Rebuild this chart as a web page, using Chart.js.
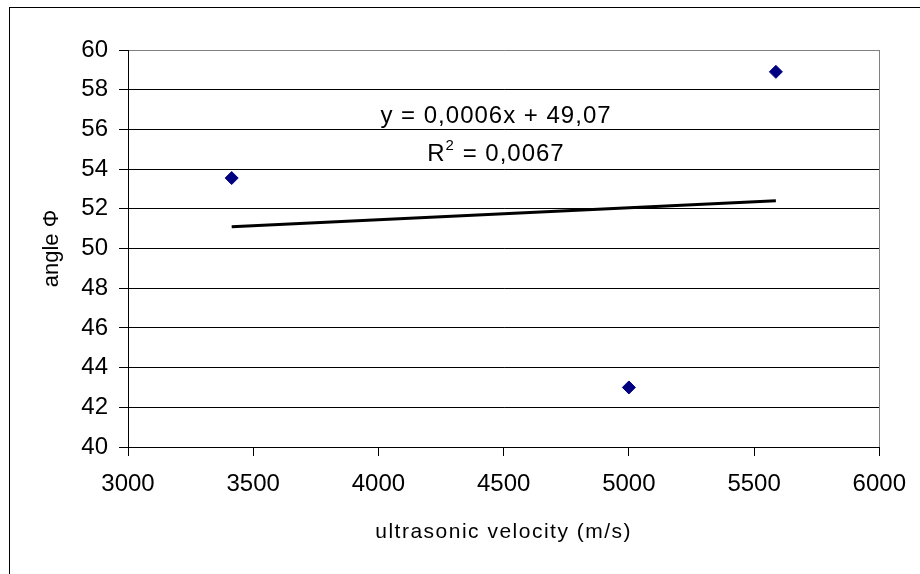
<!DOCTYPE html>
<html>
<head>
<meta charset="utf-8">
<script src="https://cdn.jsdelivr.net/npm/chart.js@4/dist/chart.umd.min.js"></script>
<style>
  html, body { margin: 0; padding: 0; background: #fff; }
  #wrap { width: 920px; height: 574px; }
</style>
</head>
<body>
<div id="wrap"><canvas id="chart" width="920" height="574"></canvas></div>
<script>
// measured points
var velocity = [3414, 5587, 5000];
var angle = [53.55, 58.9, 43.0];

// linear trend line ends (Excel style)
var trendVelocity = [3414, 5587];
var trendAngle = [51.1, 52.4];

var xTicks = [3000, 3500, 4000, 4500, 5000, 5500, 6000];
var yTicks = [40, 42, 44, 46, 48, 50, 52, 54, 56, 58, 60];

var xTitle = 'ultrasonic velocity (m/s)';
var yTitle = 'angle Φ';
var trendText = 'y = 0,0006x + 49,07';
var r2Text = '0,0067';

var FONT = "'Liberation Sans', Arial, sans-serif";

var toPoints = function (xs, ys) {
    var out = [];
    for (var i = 0; i < xs.length; i++) {
        out.push({ x: xs[i], y: ys[i] });
    }
    return out;
};

var frame = {
    id: 'frame',
    beforeDraw: function (chart) {
        var ctx = chart.ctx;
        ctx.save();
        ctx.fillStyle = '#fff';
        ctx.fillRect(0, 0, chart.width, chart.height);
        ctx.strokeStyle = '#000';
        ctx.lineWidth = 1;
        ctx.strokeRect(9.5, 7.5, chart.width + 20, chart.height + 20);
        ctx.restore();
    },
    afterDraw: function (chart) {
        var ctx = chart.ctx;
        var a = chart.chartArea;
        ctx.save();
        // plot area right edge
        ctx.strokeStyle = '#808080';
        ctx.lineWidth = 1;
        ctx.beginPath();
        ctx.moveTo(Math.round(a.right) + 0.5, a.top);
        ctx.lineTo(Math.round(a.right) + 0.5, a.bottom);
        ctx.stroke();

        ctx.fillStyle = '#000';
        ctx.textBaseline = 'alphabetic';

        // x axis title (wide spacing like the original)
        ctx.letterSpacing = '1.5px';
        ctx.font = '21px ' + FONT;
        ctx.textAlign = 'center';
        ctx.fillText(xTitle, (a.left + a.right) / 2, 538);

        // trend line label
        var cx = 496;
        ctx.letterSpacing = '1px';
        ctx.font = '24px ' + FONT;
        ctx.textAlign = 'center';
        ctx.fillText(trendText, cx, 123);

        ctx.textAlign = 'left';
        var w1 = ctx.measureText('R').width;
        ctx.font = '15px ' + FONT;
        var w2 = ctx.measureText('2').width;
        ctx.font = '24px ' + FONT;
        var w3 = ctx.measureText(' = ' + r2Text).width;
        var x0 = cx - (w1 + w2 + w3) / 2;
        ctx.fillText('R', x0, 161);
        ctx.font = '15px ' + FONT;
        ctx.fillText('2', x0 + w1, 150);
        ctx.font = '24px ' + FONT;
        ctx.fillText(' = ' + r2Text, x0 + w1 + w2, 161);
        ctx.restore();
    }
};

var chart = new Chart(document.getElementById('chart'), {
    type: 'scatter',
    data: {
        datasets: [
            {
                label: 'trend',
                data: toPoints(trendVelocity, trendAngle),
                showLine: true,
                borderColor: '#000',
                borderWidth: 3,
                pointRadius: 0,
                fill: false,
                order: 2
            },
            {
                label: 'angle',
                data: toPoints(velocity, angle),
                pointStyle: 'rectRot',
                pointRadius: 6.5,
                pointBackgroundColor: '#000080',
                pointBorderColor: '#000080',
                pointBorderWidth: 1,
                order: 1
            }
        ]
    },
    options: {
        responsive: false,
        animation: false,
        events: [],
        layout: { padding: { top: 50, right: 38, left: 0, bottom: 0 } },
        plugins: {
            legend: { display: false },
            tooltip: { enabled: false }
        },
        scales: {
            x: {
                type: 'linear',
                min: xTicks[0],
                max: xTicks[xTicks.length - 1],
                afterBuildTicks: function (scale) {
                    scale.ticks = xTicks.map(function (v) { return { value: v }; });
                },
                afterFit: function (scale) { scale.height = 127; },
                ticks: {
                    color: '#000',
                    font: { family: FONT, size: 24 },
                    padding: 14,
                    maxRotation: 0,
                    callback: function (v) { return String(v); }
                },
                grid: {
                    drawOnChartArea: false,
                    tickLength: 9,
                    tickColor: '#000'
                },
                border: { color: '#000', width: 1 }
            },
            y: {
                type: 'linear',
                min: yTicks[0],
                max: yTicks[yTicks.length - 1],
                afterBuildTicks: function (scale) {
                    scale.ticks = yTicks.map(function (v) { return { value: v }; });
                },
                afterFit: function (scale) { scale.width = 128; },
                ticks: {
                    color: '#000',
                    font: { family: FONT, size: 24 },
                    padding: 11,
                    callback: function (v) { return String(v); }
                },
                grid: {
                    color: function (c) {
                        return c.tick && c.tick.value === 60 ? '#808080' : '#000';
                    },
                    tickLength: 9,
                    tickColor: '#000'
                },
                border: { color: '#000', width: 1 },
                title: {
                    display: true,
                    text: yTitle,
                    color: '#000',
                    font: { family: FONT, size: 22 },
                    padding: { top: 39, bottom: 0 }
                }
            }
        }
    },
    plugins: [frame]
});
</script>
</body>
</html>
